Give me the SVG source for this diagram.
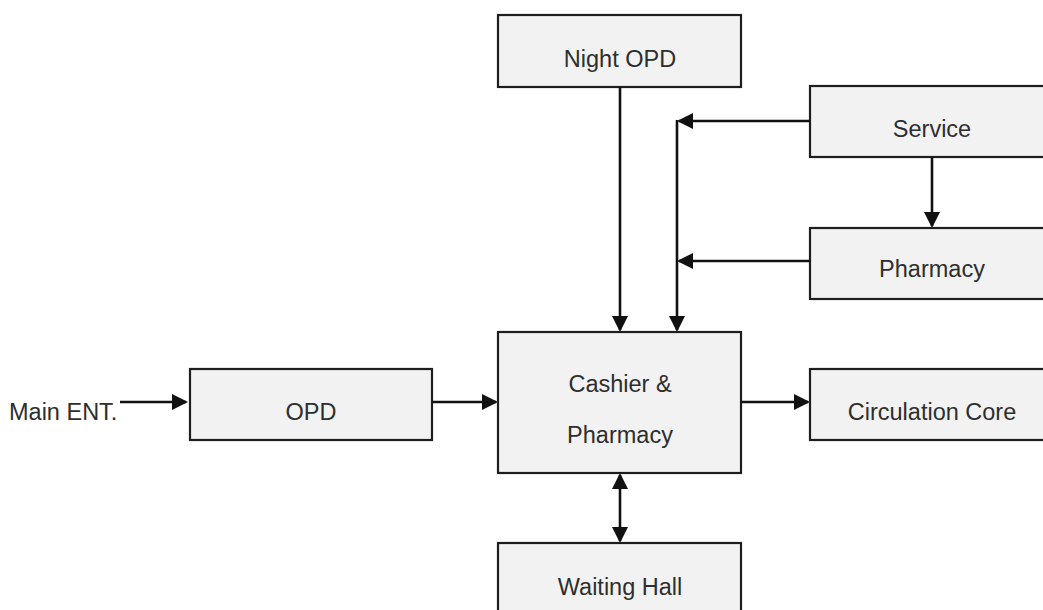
<svg xmlns="http://www.w3.org/2000/svg" width="1043" height="610" viewBox="0 0 1043 610">
  <style>
    .box { fill: #f2f2f2; stroke: #1e1e1e; stroke-width: 2.2; }
    .lbl { font-family: "Liberation Sans", Arial, sans-serif; font-size: 23.5px; fill: #2e2e2e; text-anchor: middle; }
    .edge { stroke: #111; stroke-width: 2.6; fill: none; }
  </style>
  <defs>
    <marker id="arrow" viewBox="0 0 16 16" refX="14" refY="8" markerWidth="16" markerHeight="16" markerUnits="userSpaceOnUse" orient="auto-start-reverse">
      <path d="M0,0 L16,8 L0,16 z" fill="#111"/>
    </marker>
  </defs>

  <rect width="1043" height="610" fill="#ffffff"/>

  <g id="nodes">
    <g id="night-opd">
      <rect class="box" x="498" y="15" width="243" height="72"/>
      <text class="lbl" x="620" y="67">Night OPD</text>
    </g>
    <g id="service">
      <rect class="box" x="810" y="86" width="243" height="71"/>
      <text class="lbl" x="932" y="137">Service</text>
    </g>
    <g id="pharmacy">
      <rect class="box" x="810" y="228" width="243" height="71"/>
      <text class="lbl" x="932" y="277">Pharmacy</text>
    </g>
    <g id="cashier-pharmacy">
      <rect class="box" x="498" y="332" width="243" height="141"/>
      <text class="lbl" x="620" y="392">Cashier &amp;</text>
      <text class="lbl" x="620" y="443">Pharmacy</text>
    </g>
    <g id="opd">
      <rect class="box" x="190" y="369" width="242" height="71"/>
      <text class="lbl" x="311" y="420">OPD</text>
    </g>
    <g id="circulation-core">
      <rect class="box" x="810" y="369" width="243" height="71"/>
      <text class="lbl" x="932" y="420">Circulation Core</text>
    </g>
    <g id="waiting-hall">
      <rect class="box" x="498" y="543" width="243" height="80"/>
      <text class="lbl" x="620" y="595">Waiting Hall</text>
    </g>
    <g id="main-ent">
      <text class="lbl" x="9" y="420" style="text-anchor:start">Main ENT.</text>
    </g>
  </g>

  <g id="connectors">
    <!-- entrance into OPD, then on to cashier and circulation -->
    <line class="edge" x1="120" y1="402" x2="186" y2="402" marker-end="url(#arrow)"/>
    <line class="edge" x1="432" y1="402" x2="496" y2="402" marker-end="url(#arrow)"/>
    <line class="edge" x1="741" y1="402" x2="808" y2="402" marker-end="url(#arrow)"/>
    <!-- night OPD down to cashier -->
    <line class="edge" x1="620" y1="87" x2="620" y2="330" marker-end="url(#arrow)"/>
    <!-- shared riser from service / pharmacy -->
    <line class="edge" x1="677" y1="120" x2="677" y2="330" marker-end="url(#arrow)"/>
    <line class="edge" x1="810" y1="121" x2="679" y2="121" marker-end="url(#arrow)"/>
    <line class="edge" x1="810" y1="261" x2="679" y2="261" marker-end="url(#arrow)"/>
    <!-- service to pharmacy -->
    <line class="edge" x1="932" y1="157" x2="932" y2="226" marker-end="url(#arrow)"/>
    <!-- cashier and waiting hall, both ways -->
    <line class="edge" x1="620" y1="475" x2="620" y2="541" marker-start="url(#arrow)" marker-end="url(#arrow)"/>
  </g>
</svg>
